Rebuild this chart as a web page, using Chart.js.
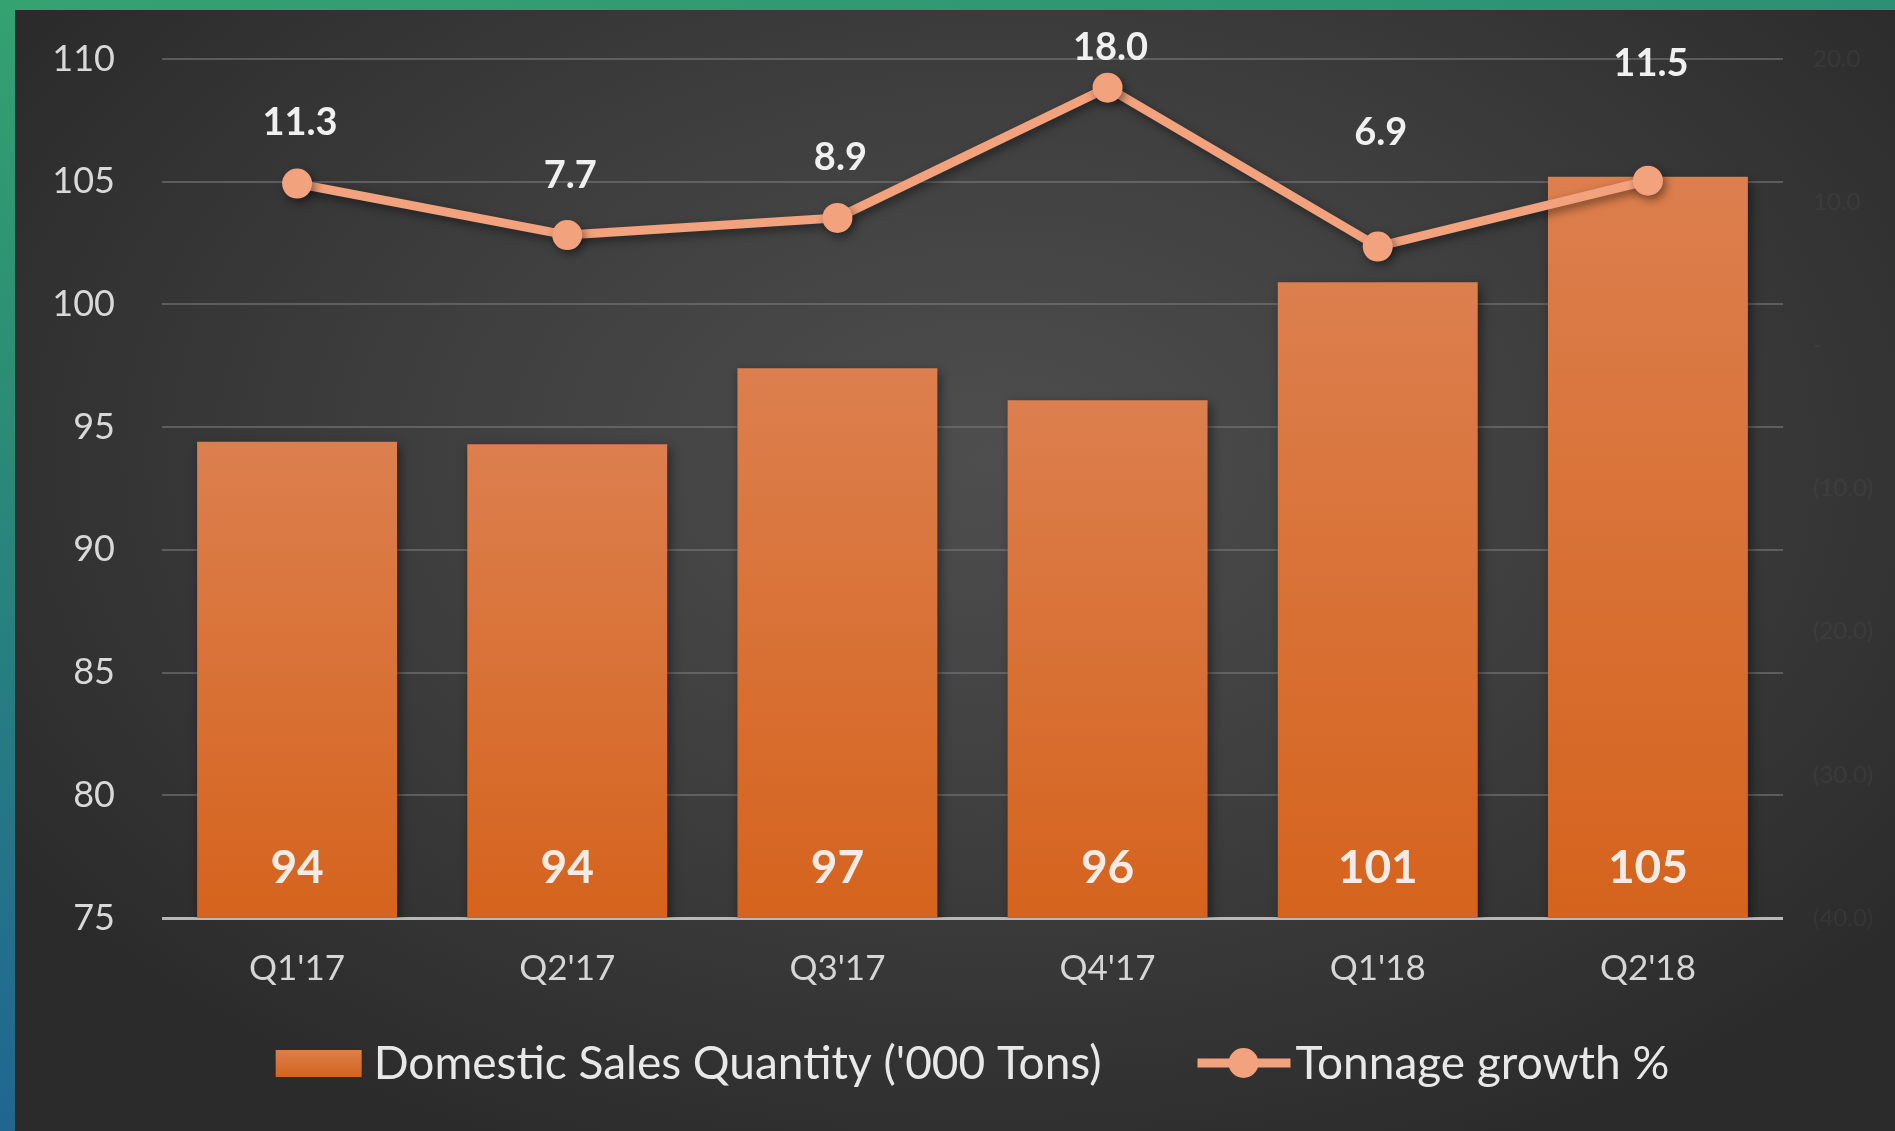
<!DOCTYPE html>
<html>
<head>
<meta charset="utf-8">
<script src="https://cdn.jsdelivr.net/npm/chart.js@4.4.1/dist/chart.umd.min.js"></script>
<style>
  html, body { margin: 0; padding: 0; }
  body {
    width: 1895px; height: 1131px; overflow: hidden; position: relative;
    background: linear-gradient(170deg, #34a271 0%, #2b8f74 25%, #226f8c 65%, #1c5796 100%);
  }
  #panel {
    position: absolute; left: 15px; top: 10px; width: 1880px; height: 1121px;
    background: radial-gradient(ellipse 62% 68% at 52% 40%, #4e4e4e 0%, #3e3e3e 50%, #2b2b2b 100%);
  }
  #chart { display: block; }
</style>
</head>
<body>
<div id="panel"><canvas id="chart" width="1880" height="1121"></canvas></div>
<script>
document.addEventListener('DOMContentLoaded', function() {

  // ====== data ======
  const categories = ["Q1'17", "Q2'17", "Q3'17", "Q4'17", "Q1'18", "Q2'18"];
  const salesQty = [94.4, 94.3, 97.4, 96.1, 100.9, 105.2];
  const growthPct = [11.3, 7.7, 8.9, 18.0, 6.9, 11.5];
  const leftAxis = { min: 75, max: 110, step: 5 };
  const rightAxis = { min: -40, max: 20, step: 10 };
  const seriesNames = ["Domestic Sales Quantity ('000 Tons)", 'Tonnage growth %'];

  // how far each growth label sits above its point (px), as placed in the original
  const growthLabelLift = [61, 59, 60, 40, 114, 117];

  const FONT = 'Lato, "Open Sans", sans-serif';
  const lineColor = '#f2a27c';

  // bar gradient per bar, from its top to the axis
  function barFill(ctx) {
    const chart = ctx.chart;
    const area = chart.chartArea;
    if (!area || ctx.type !== 'data') return '#d86c2c';
    const top = chart.scales.y.getPixelForValue(ctx.raw);
    const g = chart.ctx.createLinearGradient(0, top, 0, area.bottom);
    g.addColorStop(0, '#dc7f4e');
    g.addColorStop(1, '#d5631d');
    return g;
  }

  // ====== shadows + value labels ======
  const shadowPlugin = {
    id: 'shadows',
    beforeDatasetDraw(chart, args) {
      const c = chart.ctx;
      c.save();
      c.shadowColor = 'rgba(0,0,0,0.45)';
      c.shadowBlur = 10;
      c.shadowOffsetX = 3;
      c.shadowOffsetY = 4;
    },
    afterDatasetDraw(chart) {
      chart.ctx.restore();
    }
  };

  const valueLabels = {
    id: 'valueLabels',
    afterDatasetsDraw(chart) {
      const c = chart.ctx;
      const area = chart.chartArea;
      c.save();
      c.textAlign = 'center';
      c.textBaseline = 'middle';
      // growth labels above points
      const lineMeta = chart.getDatasetMeta(0);
      c.font = 'bold 38px ' + FONT;
      c.fillStyle = '#f0f0f0';
      lineMeta.data.forEach(function(pt, i) {
        c.fillText(growthPct[i].toFixed(1), pt.x + 3, pt.y - growthLabelLift[i]);
      });
      // sales labels at bottom of bars
      const barMeta = chart.getDatasetMeta(1);
      c.font = 'bold 46px ' + FONT;
      c.fillStyle = '#f3ece6';
      barMeta.data.forEach(function(bar, i) {
        c.fillText(String(Math.round(salesQty[i])), bar.x, area.bottom - 50);
      });
      c.restore();
    }
  };

  // ====== legend under the axis ======
  const bottomLegend = {
    id: 'bottomLegend',
    afterDraw(chart) {
      const c = chart.ctx;
      const area = chart.chartArea;
      const y = 1053;
      c.save();
      c.font = '46px ' + FONT;
      c.textBaseline = 'middle';
      const w1 = c.measureText(seriesNames[0]).width;
      const w2 = c.measureText(seriesNames[1]).width;
      const total = 86 + 12 + w1 + 96 + 93 + 5 + w2;
      let x = (area.left + area.right) / 2 - total / 2;
      // bar swatch
      const g = c.createLinearGradient(0, y - 13, 0, y + 14);
      g.addColorStop(0, '#dc7f4e');
      g.addColorStop(1, '#d5631d');
      c.fillStyle = g;
      c.fillRect(x, y - 13, 86, 27);
      x += 86 + 12;
      c.fillStyle = '#e8e8e8';
      c.fillText(seriesNames[0], x, y + 1);
      x += w1 + 96;
      // line swatch
      c.strokeStyle = lineColor;
      c.lineWidth = 9;
      c.beginPath();
      c.moveTo(x, y);
      c.lineTo(x + 93, y);
      c.stroke();
      c.fillStyle = lineColor;
      c.beginPath();
      c.arc(x + 46, y, 15, 0, Math.PI * 2);
      c.fill();
      x += 93 + 5;
      c.fillStyle = '#e8e8e8';
      c.fillText(seriesNames[1], x, y + 1);
      c.restore();
    }
  };

  new Chart(document.getElementById('chart').getContext('2d'), {
    data: {
      labels: categories,
      datasets: [{
        type: 'line',
        label: seriesNames[1],
        data: growthPct,
        yAxisID: 'y1',
        borderColor: lineColor,
        backgroundColor: lineColor,
        borderWidth: 9,
        pointRadius: 15,
        pointBackgroundColor: lineColor,
        pointBorderWidth: 0,
        tension: 0,
        order: 0
      }, {
        type: 'bar',
        label: seriesNames[0],
        data: salesQty,
        yAxisID: 'y',
        backgroundColor: barFill,
        barPercentage: 0.74,
        categoryPercentage: 1,
        order: 1
      }]
    },
    options: {
      responsive: false,
      animation: false,
      layout: { padding: { top: 49, bottom: 120, left: 0, right: 0 } },
      plugins: {
        legend: { display: false },
        tooltip: { enabled: false }
      },
      scales: {
        x: {
          grid: { display: false, drawTicks: false },
          border: { display: false },
          ticks: { color: '#d6d6d6', font: { family: FONT, size: 35 }, padding: 30 },
          afterFit: function(s) { s.height = 93; }
        },
        y: {
          position: 'left',
          min: leftAxis.min,
          max: leftAxis.max,
          grid: {
            drawTicks: false,
            lineWidth: function(ctx) { return ctx.tick && ctx.tick.value === leftAxis.min ? 3 : 2; },
            color: function(ctx) { return ctx.tick && ctx.tick.value === leftAxis.min ? '#b8b8b8' : 'rgba(120,120,120,0.6)'; }
          },
          border: { display: false },
          ticks: { stepSize: leftAxis.step, color: '#d9d9d9', font: { family: FONT, size: 36 }, padding: 47 },
          afterFit: function(s) { s.width = 147; s.paddingTop = 0; s.paddingBottom = 0; }
        },
        y1: {
          position: 'right',
          min: rightAxis.min,
          max: rightAxis.max,
          grid: { display: false, drawTicks: false },
          border: { display: false },
          ticks: {
            stepSize: rightAxis.step,
            color: 'rgba(255,255,255,0.045)',
            font: { family: FONT, size: 24 },
            padding: 30,
            callback: function(v) {
              if (v === 0) return '-';
              return v < 0 ? '(' + Math.abs(v).toFixed(1) + ')' : v.toFixed(1);
            }
          },
          afterFit: function(s) { s.width = 112; s.paddingTop = 0; s.paddingBottom = 0; }
        }
      }
    },
    plugins: [shadowPlugin, valueLabels, bottomLegend]
  });
});
</script>
</body>
</html>
